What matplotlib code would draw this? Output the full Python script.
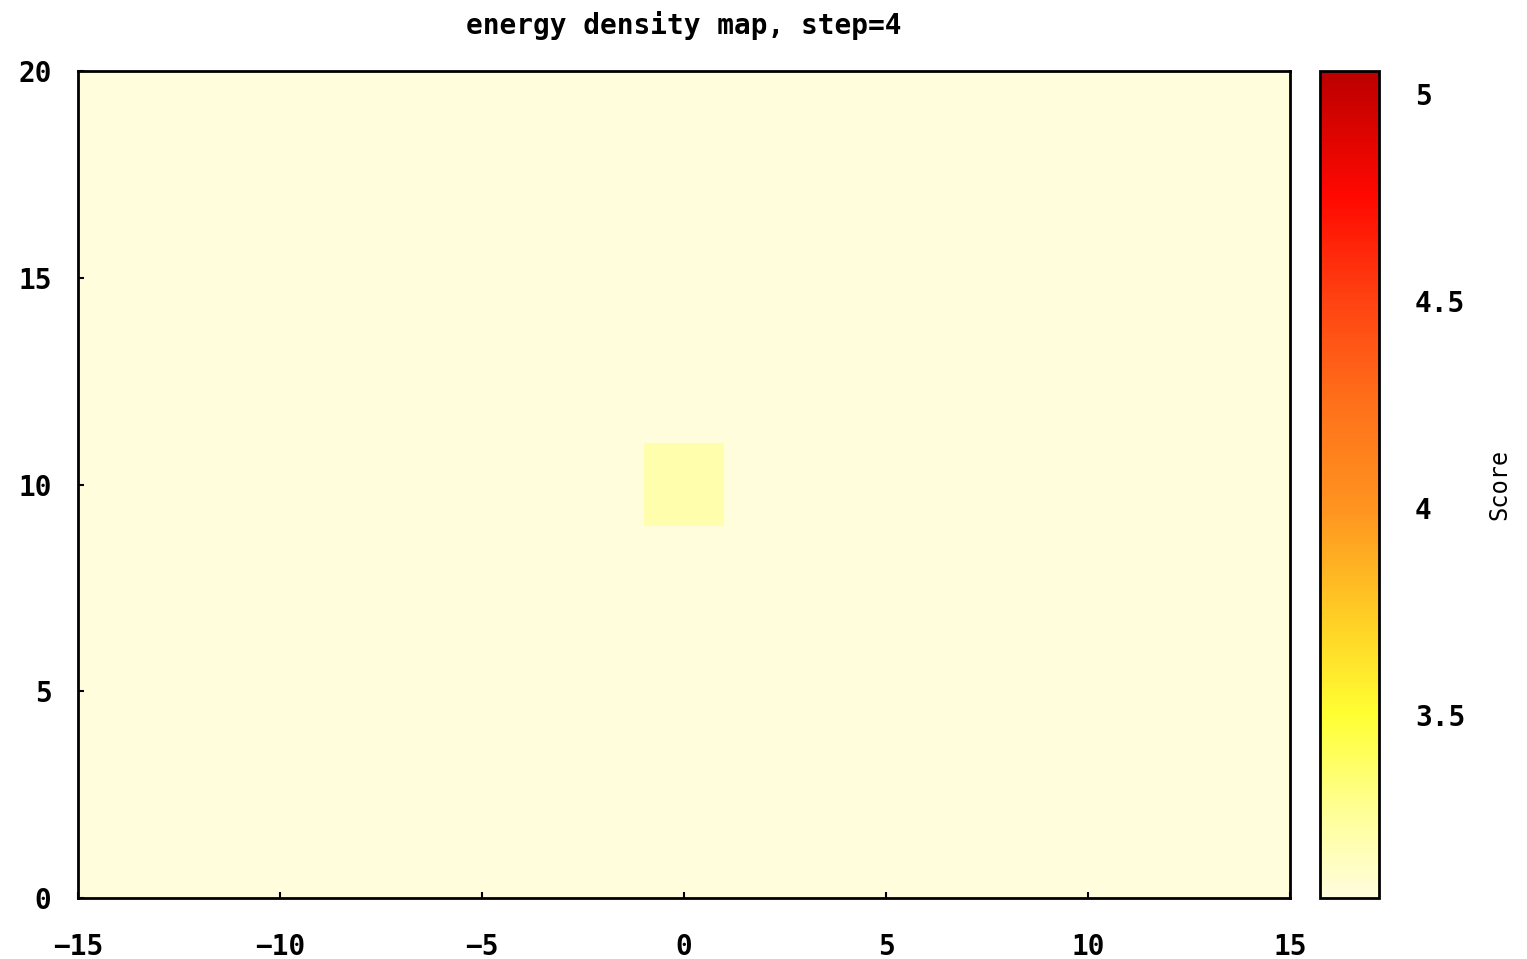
import numpy as np
import matplotlib
matplotlib.use('Agg')
from matplotlib import pyplot as plt
from matplotlib.colors import LinearSegmentedColormap

# grid centres of the map (cells are 2 units wide)
x_centers = [-14, -12, -10, -8, -6, -4, -2, 0, 2, 4, 6, 8, 10, 12, 14]
y_centers = [0, 2, 4, 6, 8, 10, 12, 14, 16, 18, 20]
background_score = 3.06
peak_x = 0
peak_y = 10
peak_score = 3.2
cb_min = 3.058
cb_max = 5.056
cb_ticks = [3.5, 4, 4.5, 5]
x_ticks = [-15, -10, -5, 0, 5, 10, 15]
y_ticks = [0, 5, 10, 15, 20]

scores = np.full((len(y_centers), len(x_centers)), background_score)
scores[y_centers.index(peak_y), x_centers.index(peak_x)] = peak_score

# gnuplot-ish palette: pale yellow -> yellow -> orange -> red -> dark red
cmap = LinearSegmentedColormap.from_list('heat', [
    (0.0, '#fffddc'),
    (0.10, '#ffff99'),
    (0.22, '#ffff33'),
    (0.32, '#ffd626'),
    (0.47, '#ff9420'),
    (0.60, '#ff701a'),
    (0.72, '#ff4412'),
    (0.85, '#ff0800'),
    (1.0, '#bb0000'),
])

plt.rcParams['font.family'] = ['DejaVu Sans Mono']
plt.rcParams['font.weight'] = 'bold'

fig = plt.figure(figsize=(15.27, 9.59), dpi=100)
ax = fig.add_axes([78/1527, 1-898/959, 1212/1527, 827/959])
cax = fig.add_axes([1320/1527, 1-898/959, 59/1527, 827/959])

mesh = ax.pcolormesh(x_centers, y_centers, scores, cmap=cmap, vmin=cb_min, vmax=cb_max,
                     shading='nearest')
ax.set_xlim(-15, 15)
ax.set_ylim(0, 20)
ax.set_xticks(x_ticks)
ax.set_yticks(y_ticks)
ax.tick_params(direction='in', length=4, width=1.5, labelsize=20, top=False, right=False)
ax.tick_params(axis='x', pad=25)
ax.tick_params(axis='y', pad=19)
for s in ax.spines.values():
    s.set_linewidth(2)
ax.set_title('energy density map, step=4', fontsize=20, fontweight='bold', pad=27)

cb = fig.colorbar(mesh, cax=cax)
cb.set_ticks(cb_ticks)
cb.set_ticklabels(['3.5', '4', '4.5', '5'])
cb.ax.tick_params(length=0, labelsize=20, pad=26)
cb.outline.set_linewidth(2)
cb.set_label('Score', fontsize=17, fontweight='normal', labelpad=16)

plt.savefig('out.png', dpi=100)
